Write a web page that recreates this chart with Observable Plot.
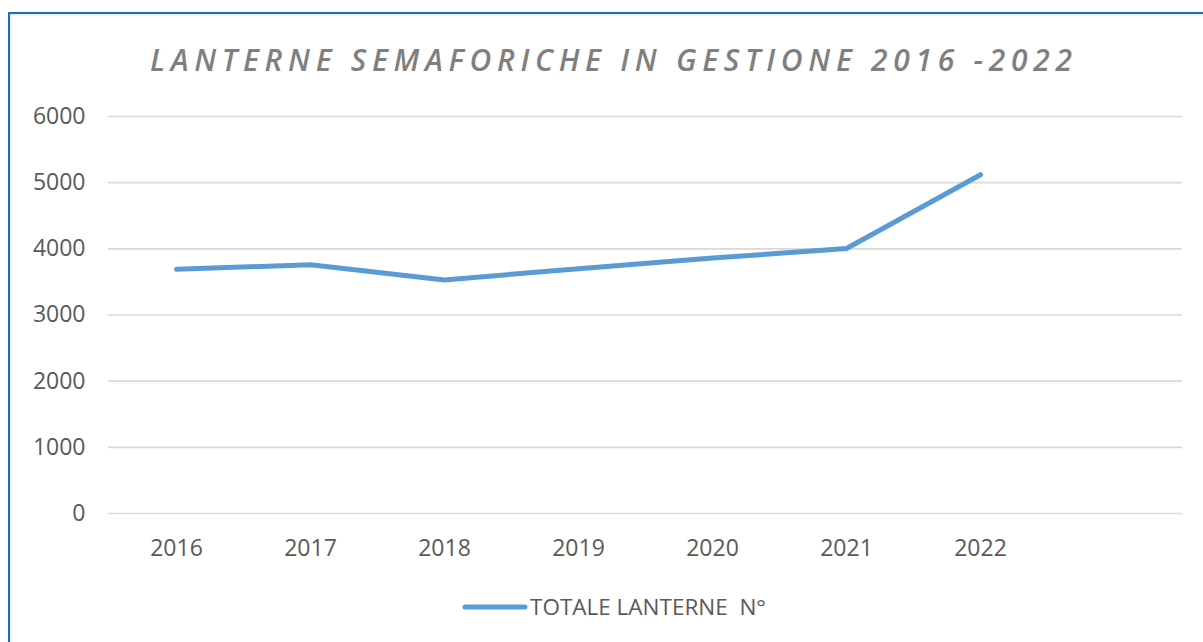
<!DOCTYPE html>
<html>
<head>
<meta charset="utf-8">
<script src="https://cdn.jsdelivr.net/npm/d3@7"></script>
<script src="https://cdn.jsdelivr.net/npm/@observablehq/plot@0.6"></script>
<style>
  html, body { margin: 0; padding: 0; background: #fff; width: 1203px; height: 642px; overflow: hidden; }
  #wrap { position: relative; width: 1203px; height: 642px; font-family: "Open Sans", sans-serif; }
  #frame { position: absolute; left: 8px; top: 12px; right: -20px; bottom: -20px;
           border-top: 2.5px solid #1470c4; border-left: 2.5px solid #1470c4; box-shadow: inset 1px 1px 2px rgba(0,0,0,0.12); }
  #title { position: absolute; left: 150px; top: 45px; font-size: 30px; line-height: 30px; font-style: italic; font-weight: 600;
           color: #7f7f7f; white-space: pre; }
  #chart { position: absolute; left: 0; top: 0; }
  #legend { position: absolute; left: 462px; top: 595px; height: 24px; display: flex; align-items: center; font-size: 22.5px; line-height: 22.5px; color: #595959; white-space: pre; }
</style>
</head>
<body>
<div id="wrap">
  <div id="frame"></div>
  <div id="chart"></div>
  <div id="title">LANTERNE SEMAFORICHE IN GESTIONE 2016 -2022</div>
  <div id="legend"><svg width="67" height="10" style="margin-right:1px"><line x1="3" y1="5" x2="63" y2="5" stroke="#5b9bd5" stroke-width="5" stroke-linecap="round"/></svg><span>TOTALE LANTERNE  N°</span></div>
</div>
<script>
const years = ["2016", "2017", "2018", "2019", "2020", "2021", "2022"];
const totals = [3690, 3760, 3530, 3700, 3860, 4005, 5120];
const yTicks = [0, 1000, 2000, 3000, 4000, 5000, 6000];
const seriesName = "TOTALE LANTERNE  N°";

const data = years.map((y, i) => ({ year: y, value: totals[i], series: seriesName }));

const chart = Plot.plot({
  width: 1203,
  height: 580,
  marginLeft: 108,
  marginRight: 21,
  marginTop: 116,
  marginBottom: 67,
  style: { fontFamily: "'Open Sans', sans-serif", fontSize: "23px", color: "#595959", background: "transparent", overflow: "visible" },
  x: { type: "point", domain: [...years, ""], padding: 0.5, label: null },
  y: { domain: [0, 6000], label: null },
  marks: [
    Plot.ruleY(yTicks, { stroke: "#d9d9d9", strokeWidth: 1.6 }),
    Plot.axisY(yTicks, { tickSize: 0, tickPadding: 23, label: null, tickFormat: d => String(d), fontSize: 23 }),
    Plot.axisX(years, { tickSize: 0, tickPadding: 26, label: null, fontSize: 23 }),
    Plot.line(data, { x: "year", y: "value", stroke: "#5b9bd5", strokeWidth: 5, strokeLinecap: "round", strokeLinejoin: "round" })
  ]
});
document.getElementById("chart").appendChild(chart);

// fit title letter-spacing to target width
const t = document.getElementById("title");
const n = t.textContent.length;
const w0 = t.getBoundingClientRect().width;
const target = 922;
const ls = (target - w0) / (n - 1);
t.style.letterSpacing = ls + "px";
</script>
</body>
</html>
